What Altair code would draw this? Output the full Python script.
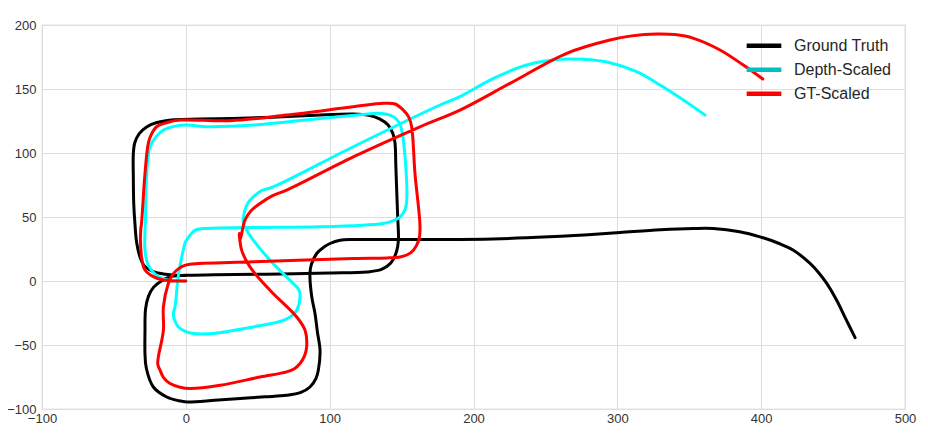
import altair as alt
import pandas as pd

series_names = ["Ground Truth", "Depth-Scaled", "GT-Scaled"]
line_colors = ["#000000", "#00FFFF", "#FF0000"]
legend_colors = ["#000000", "#00BFBF", "#FF0000"]

x_ticks = [-100, 0, 100, 200, 300, 400, 500]
y_ticks = [-100, -50, 0, 50, 100, 150, 200]

# Ground Truth (black)
gt_x = [0, -6, -14, -23, -29, -31.9, -34.2, -35.4, -36.2, -36.5, -36.5, -35.5, -32.5, -27, -20, -8, 10, 33, 60, 90, 116,
        127, 135, 140.5, 144, 145.4, 146, 146.6, 147.3, 147.8, 146.5, 142.5, 136, 126, 100, 56, 20, 0, -10, -17, -22.5,
        -26, -28, -28.4, -28.4, -27.5, -22.6, -13.3, -5, 0.6, 20, 35.4, 55, 70.1, 80, 86.3, 90.5, 92.1, 93.3, 91.5, 89.8,
        87.5, 86.3, 87.3, 91, 96, 100.2, 107.2, 116.6, 130, 150, 190.6, 237, 270, 301.9, 330, 352.8, 366.7, 385, 399.2,
        412, 422.4, 434, 440, 445.6, 452.5, 459, 465.3]
gt_y = [4.3, 4.5, 5.2, 7.5, 12, 18.8, 30, 45, 60, 80, 99.7, 108, 115, 120.5, 123.8, 126, 126.5, 127, 128, 129.5, 130.4,
        129.5, 126.5, 122, 115, 108, 90, 71, 50, 32, 23, 14, 9, 7.1, 6.2, 5.3, 4.8, 4.4, 3.5, 0, -5, -12, -22, -40,
        -56.7, -68, -82.8, -90.6, -93.5, -94.5, -93.2, -91.9, -90.5, -89.3, -87, -82.8, -76, -69.7, -54.1, -40, -25.4,
        -12, 6.1, 13, 21.5, 26.5, 29.3, 31.9, 32.4, 32.5, 32.5, 32.4, 33.7, 35.5, 37.9, 40, 41, 41, 38.5, 34.5,
        29.5, 24.1, 13.7, 6.5, -1.9, -15, -30, -44.2]

# Depth-Scaled (cyan)
ds_x = [0, -8, -15, -21, -26, -28.4, -28, -27.2, -24.9, -20.5, -15.6, -8, 0.6, 14.5, 46.9, 93.3, 125, 132.7, 139.5,
        144.3, 148.2, 150.1, 152.4, 153.6, 152.5, 149, 144, 137.3, 93.3, 46.9, 12.2, 6.5, 2.9, -0.2, -1.8, -5.3, -7.5,
        -8.7, -7.5, -5.2, 0, 5.2, 19.1, 46.9, 67.8, 73.5, 77.1, 79.4, 78.5, 74.7, 58.5, 46.9, 42.3, 40, 41.1, 43.5, 46.9,
        52.5, 60.8, 116.4, 176.7, 190.6, 213.9, 237, 260.1, 276.3, 294.9, 313.4, 329.7, 345.9, 361]
ds_y = [0, 0.3, 1.5, 5, 12, 24.1, 50, 84, 104.9, 113, 117.9, 120.8, 121.8, 120.5, 121.8, 127, 130.2, 131, 130.3, 128.3,
        124, 117.9, 97, 63.2, 56, 50.1, 47, 45, 42.3, 41.8, 41, 39.8, 35.8, 30.5, 24.1, 3.4, -20.2, -25.4, -31.5, -35.9,
        -39.5, -41, -41, -35.9, -30.7, -27.2, -22.8, -12.4, -6.5, -2, 16.3, 32, 39.7, 45, 55.4, 61.5, 65.8, 70.5, 73.6,
        104.9, 137.5, 144, 158.3, 168.7, 173.2, 173.2, 170.5, 163.5, 153.1, 141.4, 129.6]

# GT-Scaled (red)
gs_x = [0, -7.5, -15.6, -22.6, -28.4, -30.8, -31.4, -30.8, -28.4, -26.1, -24, -20.3, -13, -4, 30.7, 70.1, 116.4, 137.3,
        145.5, 151.2, 155, 157, 159.3, 162.8, 162, 158.2, 154, 149, 140, 116.4, 46.9, 2.9, -2.5, -6.4, -9.8, -12.2, -15.6,
        -15.6, -19.1, -19.5, -17.9, -15.5, -11, -4, 2.9, 23.8, 51.6, 70.1, 75.5, 79.4, 82.5, 84, 82.9, 77.1, 58.5, 44.6,
        38.8, 37.1, 37.7, 41.1, 45.5, 51.6, 60, 70.1, 116.4, 162.8, 190.6, 225.4, 264.8, 294.9, 310, 327.4, 340, 353,
        371.4, 387.6, 401.1]
gs_y = [0, 0, 0.8, 3.4, 8.6, 18.8, 39.7, 45, 84, 107.5, 114.5, 120.5, 123.8, 125.7, 125.2, 129.6, 136.1, 138.8, 138.3,
        133.5, 128, 120.5, 84, 42.3, 32, 24.1, 20.5, 18.8, 18, 17.6, 15, 13.1, 11.5, 8.4, 4, -2, -20.2, -38.5, -59.3,
        -65, -69.7, -75.5, -80.1, -83, -84, -81.5, -75, -71, -68.5, -64.5, -58.5, -51.5, -38.5, -28.1, -7.2, 11, 24.1,
        37.1, 31.9, 47.5, 55, 60.6, 66.5, 71, 97, 120.5, 133.5, 154.4, 177.9, 188.3, 191.5, 193, 192.5, 189.6, 180.5,
        168.7, 157.8]

rows = []
for name, xs, ys in zip(series_names, [gt_x, ds_x, gs_x], [gt_y, ds_y, gs_y]):
    for i, (a, b) in enumerate(zip(xs, ys)):
        rows.append({"series": name, "x": a, "y": b, "i": i})
df = pd.DataFrame(rows)

xenc = alt.X("x:Q", scale=alt.Scale(domain=[-100, 500], nice=False, zero=False),
             axis=alt.Axis(values=x_ticks, title=None, labelPadding=3, labelFlush=False, labelOverlap=False))
yenc = alt.Y("y:Q", scale=alt.Scale(domain=[-100, 200], nice=False, zero=False),
             axis=alt.Axis(values=y_ticks, title=None, labelPadding=6, labelFlush=False, labelOverlap=False))

color_scale = alt.Scale(domain=series_names, range=legend_colors)
legend = alt.Legend(title=None, orient="none", legendX=702, legendY=9, symbolType="stroke",
                    symbolStrokeWidth=4.5, symbolSize=1200, clipHeight=23.3, labelFontSize=16,
                    labelFont="Liberation Sans", labelColor="#262626", labelOffset=10, rowPadding=0, padding=0)

base = alt.Chart(df).mark_line(interpolate="catmull-rom", strokeWidth=3, strokeCap="round", strokeJoin="round")

gt_layer = base.transform_filter(alt.datum.series == "Ground Truth").encode(
    x=xenc, y=yenc, order=alt.Order("i:Q"),
    color=alt.Color("series:N", scale=color_scale, legend=legend))
ds_layer = base.transform_filter(alt.datum.series == "Depth-Scaled").encode(
    x=xenc, y=yenc, order=alt.Order("i:Q"), color=alt.value(line_colors[1]))
gs_layer = base.transform_filter(alt.datum.series == "GT-Scaled").encode(
    x=xenc, y=yenc, order=alt.Order("i:Q"),
    color=alt.Color("series:N", scale=color_scale, legend=legend))

chart = alt.layer(gt_layer, ds_layer, gs_layer).properties(
    width=863, height=384,
    autosize=alt.AutoSizeParams(type="none"),
    padding={"left": 34, "top": 17, "right": 12, "bottom": 16},
).configure_view(
    stroke="#cccccc", strokeWidth=1.2
).configure_axis(
    grid=True, gridColor="#dddddd", gridWidth=1, domain=False, ticks=False,
    labelFont="Liberation Sans", labelFontSize=13, labelColor="#333333"
)

chart.save("out.html", embed_options={"renderer": "svg", "actions": False})
